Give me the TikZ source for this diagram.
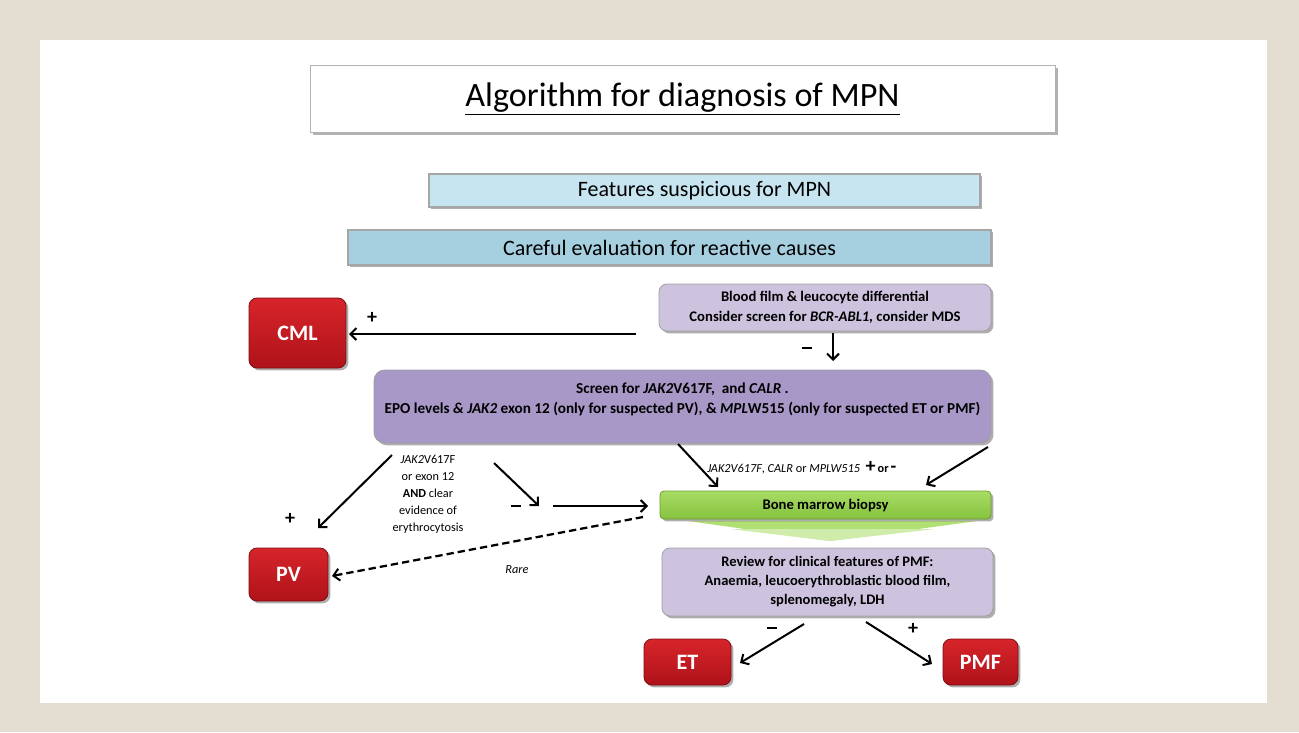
\documentclass[tikz,border=0pt]{standalone}
\usepackage{fontspec}
\setmainfont{Carlito}
\usetikzlibrary{arrows.meta,shadows,calc}
\definecolor{bgbeige}{HTML}{E4DDD1}
\definecolor{featblue}{HTML}{C7E5F0}
\definecolor{carblue}{HTML}{A6CFDF}
\definecolor{lav}{HTML}{CDC3DF}
\definecolor{purp}{HTML}{A898C7}
\definecolor{redtop}{HTML}{D6252A}
\definecolor{redbot}{HTML}{B0121A}
\definecolor{redbd}{HTML}{7E0E12}
\definecolor{grtop}{HTML}{A8DC64}
\definecolor{grbot}{HTML}{86C23F}
\definecolor{grbd}{HTML}{6A9A30}
\newcommand{\mminus}{\rule[0.22em]{8pt}{1.5pt}}
\tikzset{
  shd/.style={drop shadow={shadow xshift=1.8pt,shadow yshift=-1.8pt,opacity=0.45,fill=black!70}},
  barbox/.style={draw=gray!70,line width=0.8pt,inner sep=0pt,shd,font=\fontsize{16.5}{19}\selectfont},
  lavbox/.style={draw=gray!75,line width=0.6pt,rounded corners=6pt,fill=lav,inner sep=0pt,shd,
     font=\bfseries\fontsize{11}{15}\selectfont,align=center},
  redbox/.style={draw=redbd,line width=0.6pt,rounded corners=6pt,top color=redtop,bottom color=redbot,
     inner sep=0pt,shd,text=white,font=\bfseries\fontsize{16.5}{18}\selectfont},
  arr/.style={line width=1.5pt,-{Straight Barb[length=4.5pt,width=9pt,line width=1.5pt]}},
  lbl/.style={inner sep=0pt,font=\fontsize{9.2}{12.75}\selectfont,align=center},
  sign/.style={inner sep=0pt,font=\bfseries\fontsize{15}{15}\selectfont}
}
\begin{document}
\begin{tikzpicture}[x=0.75pt,y=-0.75pt]
\useasboundingbox (0,0) rectangle (1299,732);
\fill[bgbeige] (0,0) rectangle (1299,732);
\fill[white] (40,40) rectangle (1267,703);

% title
\node[draw=gray!60,line width=0.6pt,fill=white,minimum width=558.75pt,minimum height=50.25pt,inner sep=0pt,
  drop shadow={shadow xshift=2pt,shadow yshift=-2pt,opacity=0.5,fill=black!60},
  font=\fontsize{25.6}{28}\selectfont] (title) at (682.5,98.5) {\underline{Algorithm for diagnosis of MPN}};

% header bars
\node[barbox,fill=featblue,minimum width=413.25pt,minimum height=24.75pt] (feat) at (704.5,190.5) {Features suspicious for MPN};
\node[barbox,fill=carblue,minimum width=482.25pt,minimum height=26.25pt] (care) at (669.5,247.5) {Careful evaluation for reactive causes};

% blood film
\node[lavbox,minimum width=249pt,minimum height=35.25pt] (blood) at (825,307.5)
  {Blood film \& leucocyte differential\\Consider screen for \textit{BCR-ABL1,} consider MDS};

% CML
\node[redbox,minimum width=72.75pt,minimum height=52.5pt] (cml) at (297.5,333) {CML};

% screen box
\node[draw=gray!75,line width=0.6pt,rounded corners=8pt,fill=purp,inner sep=0pt,shd,
  minimum width=462.75pt,minimum height=54.75pt] (screen) at (682.5,406.5) {};
\node[inner sep=0pt,align=center,font=\bfseries\fontsize{11.4}{15}\selectfont] (screentxt) at (682.5,399)
  {Screen for \textit{JAK2}V617F,\ \ and \textit{CALR} .\\
   EPO levels \textit{\&} \textit{JAK2} exon 12 (only for suspected PV), \& \textit{MPL}W515 (only for suspected ET or PMF)};

% bone marrow
\fill[grtop!90!white] (688,521) -- (977,521) -- (830,541) -- cycle;
\fill[grtop!55!white] (730,529) -- (935,529) -- (830,541) -- cycle;
\node[draw=grbd,line width=0.6pt,rounded corners=3pt,top color=grtop,bottom color=grbot,inner sep=0pt,shd,
  minimum width=248.25pt,minimum height=21pt,font=\bfseries\fontsize{11}{12}\selectfont] (bone) at (825.5,505) {Bone marrow biopsy};

% review
\node[lavbox,minimum width=248.25pt,minimum height=51pt,font=\bfseries\fontsize{10.9}{14.2}\selectfont] (review) at (827.5,582)
  {Review for clinical features of PMF:\\Anaemia, leucoerythroblastic blood film,\\splenomegaly, LDH};

% end boxes
\node[redbox,minimum width=59.25pt,minimum height=39.75pt] (pv) at (288.5,574.5) {PV};
\node[redbox,minimum width=65.25pt,minimum height=34.5pt] (et) at (687.5,662) {ET};
\node[redbox,minimum width=56.25pt,minimum height=34.5pt] (pmf) at (980.5,662) {PMF};

% coordinates for free ends
\coordinate (cmlS) at (636,334);
\coordinate (cmlE) at (349,334);
\coordinate (bdS) at (833,333);
\coordinate (bdE) at (833,361);
\coordinate (pvS) at (392,455);
\coordinate (pvE) at (318,528);
\coordinate (mS) at (494,463);
\coordinate (mE) at (539,506);
\coordinate (hS) at (553,506);
\coordinate (hE) at (648,506);
\coordinate (dS) at (643,517);
\coordinate (dE) at (332,576);
\coordinate (aS) at (678,444);
\coordinate (aE) at (718,487);
\coordinate (bS) at (988,447);
\coordinate (bE) at (926,485);
\coordinate (eS) at (804,624);
\coordinate (eE) at (740,663);
\coordinate (fS) at (866,622);
\coordinate (fE) at (932,664);

\draw[arr] (cmlS) -- (cmlE);
\draw[arr] (bdS) -- (bdE);
\draw[arr] (pvS) -- (pvE);
\draw[arr] (mS) -- (mE);
\draw[arr] (hS) -- (hE);
\draw[arr,line width=1.7pt,dash pattern=on 5.5pt off 3pt] (dS) -- (dE);
\draw[arr] (aS) -- (aE);
\draw[arr] (bS) -- (bE);
\draw[arr] (eS) -- (eE);
\draw[arr] (fS) -- (fE);

% signs and labels
\node[sign] (s1) at (372,318) {+};
\node[sign] (s2) at (807,350) {\mminus};
\node[sign] (s3) at (290,519) {+};
\node[sign] (s4) at (516,508) {\mminus};
\node[sign] (s5) at (772,630) {\mminus};
\node[sign] (s6) at (913,629) {+};

\node[lbl] (jak) at (428,494) {\textit{JAK2}V617F\\or exon 12\\\textbf{AND} clear\\evidence of\\erythrocytosis};
\node[lbl,font=\itshape\fontsize{9.2}{10}\selectfont] (rare) at (517,570) {Rare};
\node[inner sep=0pt,anchor=west,font=\fontsize{9.2}{10}\selectfont] (mut) at (707,468)
  {\textit{JAK2V617F}, \textit{CALR} or \textit{MPLW515}\ \ {\bfseries\fontsize{15}{15}\selectfont +}\,{\bfseries or}\,{\bfseries\fontsize{14}{14}\selectfont -}};
\end{tikzpicture}
\end{document}
